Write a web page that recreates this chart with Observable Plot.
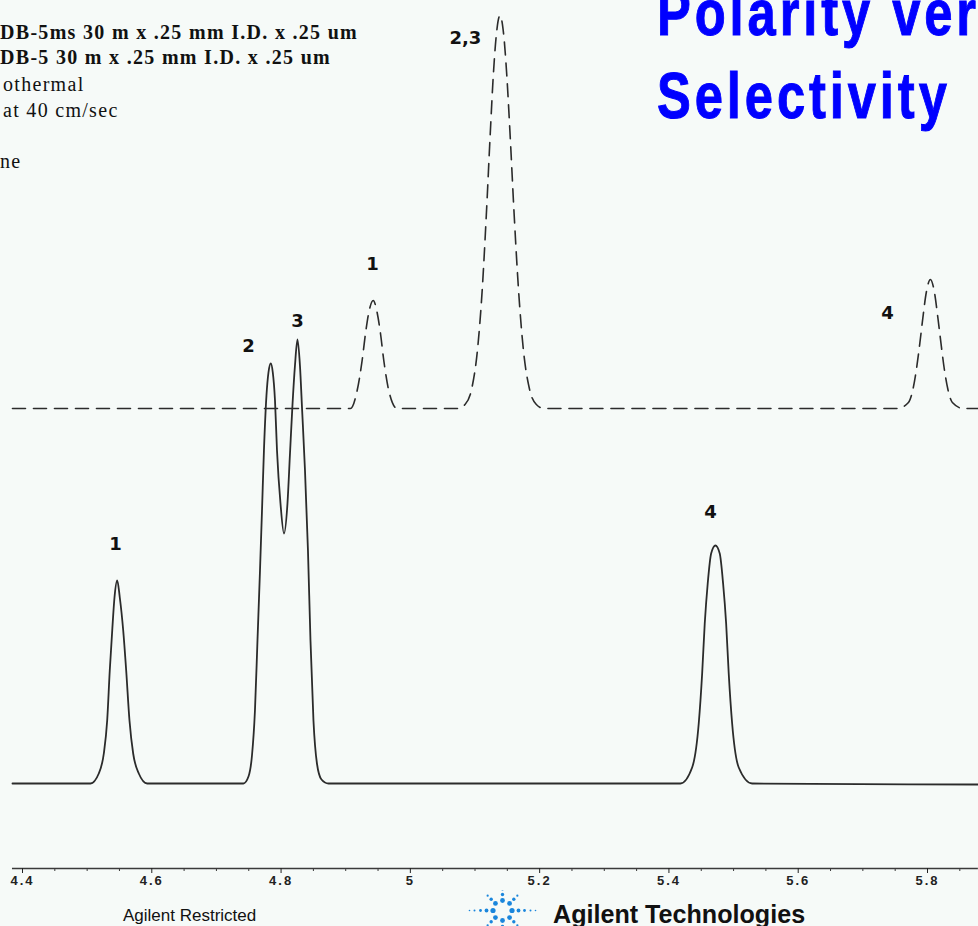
<!DOCTYPE html>
<html>
<head>
<meta charset="utf-8">
<script src="https://cdn.jsdelivr.net/npm/d3@7"></script>
<script src="https://cdn.jsdelivr.net/npm/@observablehq/plot@0.6"></script>
<style>
  html, body { margin: 0; padding: 0; background: #f6faf8; }
  #wrap { position: relative; width: 978px; height: 926px; overflow: hidden; background: #f6faf8; }
  #wrap > svg { position: absolute; left: 0; top: 0; }
  .t { position: absolute; white-space: nowrap; line-height: 1; }
  .hdr { font-family: "Liberation Serif", "DejaVu Serif", serif; font-size: 20px; letter-spacing: 1.3px; color: #111; }
  .ttl { font-family: "Liberation Sans", Arial, sans-serif; font-weight: bold; font-size: 65px; letter-spacing: 5px;
         color: #0000ff; transform: scaleX(0.78); transform-origin: 0 0; -webkit-text-stroke: 1px #0000ff; }
</style>
</head>
<body>
<div id="wrap"></div>
<script>
// ---------- data ----------
// DB-5ms trace (solid): retention time (min) and detector signal
const solidTime = [4.3845,
  4.5052, 4.518, 4.5258, 4.531, 4.535, 4.5388, 4.5423, 4.5465, 4.5505, 4.5558, 4.5604, 4.5655, 4.5712, 4.5799, 4.5929,
  4.7418, 4.7496, 4.7550, 4.7596, 4.7635, 4.7674, 4.7705, 4.7735, 4.7774, 4.7805, 4.7841, 4.7872, 4.7906, 4.7937, 4.7991,
  4.8045, 4.8099, 4.8138, 4.8176, 4.8215, 4.8254, 4.8292, 4.8326, 4.8370, 4.8416, 4.8455, 4.8501, 4.8555, 4.8625, 4.8733,
  5.4178, 5.4359, 5.4461, 5.4514, 5.4554, 5.4600, 5.4653, 5.4719, 5.4786, 5.4838, 5.4885, 5.4925, 5.4978, 5.5080, 5.5287,
  5.8787];
const solidSignal = [0,
  0, 10, 30, 63, 113, 153, 186, 203, 186, 153, 113, 63, 30, 10, 0,
  0, 7, 28, 73, 143, 213, 273, 333, 388, 411, 420, 411, 383, 333, 280,
  250, 280, 330, 378, 418, 444, 418, 373, 313, 233, 143, 63, 20, 4, 0,
  0, 16, 60, 110, 160, 200, 230, 238, 230, 200, 160, 110, 60, 16, 0,
  -1];

// DB-5 trace (dashed, offset)
const dashedTime = [4.3845,
  4.9073, 4.9177, 4.9254, 4.9306, 4.9357, 4.9425, 4.9486, 4.9538, 4.9589, 4.9666, 4.9796,
  5.0736, 5.0846, 5.0950, 5.1039, 5.1111, 5.1177, 5.1236, 5.1284, 5.1329, 5.1386,
  5.1445, 5.1491, 5.1542, 5.1604, 5.1674, 5.1748, 5.1841, 5.1949, 5.2067,
  5.7534, 5.7705, 5.7774, 5.7828, 5.7881, 5.7927, 5.7981, 5.8045, 5.8108, 5.8162, 5.8209, 5.8261, 5.8316, 5.8385, 5.8555,
  5.8787];
const dashedSignal = [375,
  375, 393, 423, 450, 471, 483, 471, 450, 423, 393, 375,
  375, 379, 395, 434, 493, 571, 650, 709, 748, 768,
  748, 709, 650, 571, 493, 434, 395, 379, 375,
  375, 381, 394, 414, 440, 465, 491, 504, 491, 465, 440, 414, 394, 381, 375,
  375];

// peak labels
const peakLabels = ["1", "2", "3", "4", "1", "2,3", "4"];
const labelTime = [4.5439, 4.7496, 4.8254, 5.4642, 4.9414, 5.0852, 5.738];
const labelSignal = [239, 437, 462, 271, 519, 745, 470];

// axis ticks
const majorTicks = [4.4, 4.6, 4.8, 5, 5.2, 5.4, 5.6, 5.8];
const tickLabels = ["4.4", "4.6", "4.8", "5", "5.2", "5.4", "5.6", "5.8"];
const minorTicks = [4.45, 4.5, 4.55, 4.65, 4.7, 4.75, 4.85, 4.9, 4.95, 5.05, 5.1, 5.15,
  5.25, 5.3, 5.35, 5.45, 5.5, 5.55, 5.65, 5.7, 5.75, 5.85];
const traceRange = [4.3845, 5.8787];
const axisLevel = -85;

// text
const headerLines = ["DB-5ms 30 m x .25 mm I.D. x .25 um", "DB-5 30 m x .25 mm I.D. x .25 um",
  "othermal", "at 40 cm/sec", "ne"];
const titleLines = ["Polarity ver", "Selectivity"];
const footerLeft = "Agilent Restricted";
const footerBrand = "Agilent Technologies";

// ---------- tables ----------
const solid = solidTime.map((t, i) => ({t, s: solidSignal[i]}));
const dashed = dashedTime.map((t, i) => ({t, s: dashedSignal[i]}));
const labels = peakLabels.map((text, i) => ({text, t: labelTime[i], s: labelSignal[i]}));

const ink = "#2b2b2b";
const chart = Plot.plot({
  width: 978,
  height: 926,
  marginLeft: 22,
  marginRight: 51,
  marginTop: 0,
  marginBottom: 58,
  style: {background: "transparent", overflow: "visible", fontFamily: "Liberation Sans, Arial, sans-serif"},
  x: {domain: [4.4, 5.8], label: null},
  y: {domain: [axisLevel, 783], axis: null},
  marks: [
    Plot.ruleY([axisLevel], {x1: traceRange[0], x2: traceRange[1], stroke: "#3a3a3a", strokeWidth: 1.5}),
    Plot.axisX({ticks: minorTicks, tickSize: 3, tickFormat: () => "", color: "#3a3a3a", label: null}),
    Plot.axisX({ticks: majorTicks, tickSize: 5, tickPadding: 2, label: null, color: "#222",
      tickFormat: d => tickLabels[majorTicks.indexOf(d)], fontSize: 13, fontWeight: "bold"}),
    Plot.line(dashed, {x: "t", y: "s", curve: "monotone-x", stroke: ink, strokeWidth: 1.6, strokeDasharray: "13,8"}),
    Plot.line(solid, {x: "t", y: "s", curve: "monotone-x", stroke: ink, strokeWidth: 1.8}),
    Plot.text(labels, {x: "t", y: "s", text: "text", fontSize: 18, fontWeight: "bold",
      fontFamily: "DejaVu Sans, sans-serif", fill: "#111"})
  ]
});
d3.select(chart).selectAll('g[aria-label="x-axis tick label"] text').style("letter-spacing", "2px");

const wrap = document.getElementById("wrap");
wrap.appendChild(chart);

function addText(str, cls, left, top, extra) {
  const d = document.createElement("div");
  d.className = "t " + cls;
  d.textContent = str;
  d.style.left = left + "px";
  d.style.top = top + "px";
  if (extra) Object.assign(d.style, extra);
  wrap.appendChild(d);
  return d;
}

// header block
const hdrPos = [[0, 21.5, true], [0, 47.2, true], [3, 73.7, false], [3, 99.7, false], [0, 151.2, false]];
headerLines.forEach((s, i) => addText(s, "hdr", hdrPos[i][0], hdrPos[i][1], {fontWeight: hdrPos[i][2] ? "bold" : "normal"}));

// title
addText(titleLines[0], "ttl", 657, -20);
addText(titleLines[1], "ttl", 657, 63.3);

// footer
addText(footerLeft, "", 123, 907.3, {fontFamily: "Liberation Sans, Arial, sans-serif", fontSize: "17px", color: "#111"});
addText(footerBrand, "", 553, 900.7, {fontFamily: "Liberation Sans, Arial, sans-serif", fontSize: "26px", fontWeight: "bold",
  color: "#111", transform: "scaleX(0.966)", transformOrigin: "0 0"});

// Agilent spark logo (decoration)
const ns = "http://www.w3.org/2000/svg";
const logo = document.createElementNS(ns, "svg");
logo.setAttribute("width", 80);
logo.setAttribute("height", 40);
logo.style.position = "absolute";
logo.style.left = "462px";
logo.style.top = "890px";
const cx = 40.5, cy = 20.5;
for (let k = 0; k < 8; k++) {
  const a = k * Math.PI / 4;
  const horizontal = k === 0 || k === 4;
  const radii = horizontal ? [9.5, 16, 22, 28, 33] : [10, 16, 21];
  const sizes = horizontal ? [2.6, 1.9, 1.4, 1.0, 0.8] : [2.4, 1.7, 1.1];
  radii.forEach((r, j) => {
    const c = document.createElementNS(ns, "circle");
    c.setAttribute("cx", cx + r * Math.cos(a));
    c.setAttribute("cy", cy - r * Math.sin(a));
    c.setAttribute("r", sizes[j]);
    c.setAttribute("fill", "#1a86dc");
    logo.appendChild(c);
  });
}
wrap.appendChild(logo);
</script>
</body>
</html>
